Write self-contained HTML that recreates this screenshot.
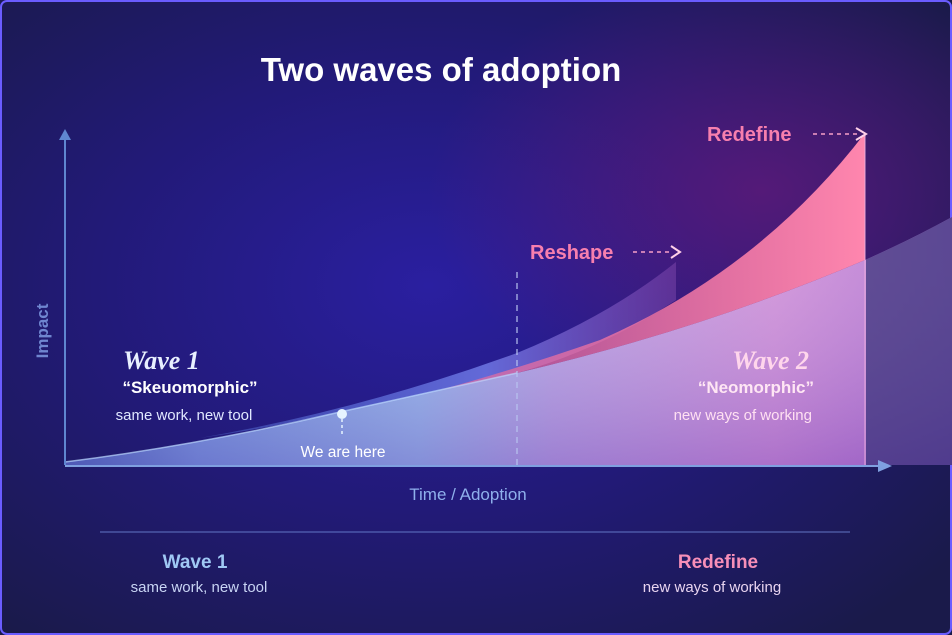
<!DOCTYPE html>
<html><head><meta charset="utf-8"><style>
html,body{margin:0;padding:0;background:#1a1848;}
svg{display:block}
</style></head><body>
<svg width="952" height="635" viewBox="0 0 952 635" xmlns="http://www.w3.org/2000/svg" font-family="Liberation Sans, sans-serif">
<defs>
<radialGradient id="bg" cx="0.45" cy="0.45" r="0.7">
<stop offset="0" stop-color="#2a1fa0"/><stop offset="0.5" stop-color="#221a78"/><stop offset="1" stop-color="#1a1a4a"/>
</radialGradient>
<radialGradient id="pg" cx="0.8" cy="0.3" r="0.35">
<stop offset="0" stop-color="#6a1a7a" stop-opacity="0.7"/><stop offset="1" stop-color="#6a1a7a" stop-opacity="0"/>
</radialGradient>
<linearGradient id="low" x1="0" y1="0" x2="1" y2="0">
<stop offset="0" stop-color="#3f68b8"/><stop offset="0.15" stop-color="#6d9be0"/><stop offset="0.4" stop-color="#92bcee"/><stop offset="0.55" stop-color="#b8a4e4"/><stop offset="0.8" stop-color="#d08ed8"/><stop offset="1" stop-color="#b070d0"/>
</linearGradient>
<linearGradient id="lowv" x1="0" y1="0" x2="0" y2="1">
<stop offset="0" stop-color="#fff" stop-opacity="0.12"/><stop offset="1" stop-color="#6a3ab0" stop-opacity="0.35"/>
</linearGradient>
<linearGradient id="pink" x1="0" y1="0" x2="1" y2="0">
<stop offset="0" stop-color="#f06a9a" stop-opacity="0.6"/><stop offset="1" stop-color="#ff86ae"/>
</linearGradient>
<linearGradient id="band" x1="0" y1="0" x2="1" y2="0">
<stop offset="0" stop-color="#5a7ae0" stop-opacity="0.35"/><stop offset="0.6" stop-color="#6a72e0" stop-opacity="0.9"/><stop offset="1" stop-color="#9a5ac0" stop-opacity="0.35"/>
</linearGradient>
<clipPath id="lc"><path d="M65,462 Q200,445 340,412 Q430,392 517,373 Q700,330 865,260 Q910,240 952,217 L952,465 L65,465 Z"/></clipPath>
</defs>
<rect x="0" y="0" width="952" height="635" fill="url(#bg)"/>
<rect x="0" y="0" width="952" height="635" fill="url(#pg)"/>
<rect x="1" y="1" width="950" height="633" rx="6" fill="none" stroke="#6a5cff" stroke-width="2"/>

<text x="441" y="81" text-anchor="middle" fill="#ffffff" font-size="33" font-weight="bold">Two waves of adoption</text>

<path d="M65,462 Q200,445 340,412 Q430,392 517,373 Q700,330 865,260 Q910,240 952,217 L952,465 L65,465 Z" fill="url(#low)"/>
<path d="M65,462 Q200,445 340,412 Q430,392 517,373 Q700,330 865,260 Q910,240 952,217 L952,465 L65,465 Z" fill="url(#lowv)"/>
<rect x="866" y="200" width="86" height="266" fill="#2a2a70" opacity="0.65" clip-path="url(#lc)"/>
<path d="M200,438 Q360,410 517,353 Q610,315 676,262 L676,300 Q600,350 517,373 Q430,392 340,412 Q270,428 200,438 Z" fill="url(#band)"/>
<path d="M440,390 Q520,368 600,340 Q760,270 865,133 L865,260 Q700,330 517,373 Q480,382 440,390 Z" fill="url(#pink)"/>
<line x1="865" y1="133" x2="865" y2="465" stroke="#f0b0e0" stroke-width="1.5" opacity="0.6"/>
<path d="M65,462 Q200,445 340,412 Q430,392 517,373" fill="none" stroke="#bcd8ff" stroke-width="1.5" opacity="0.7"/>

<line x1="517" y1="272" x2="517" y2="465" stroke="#b8c4f0" stroke-width="1.5" stroke-dasharray="6,5" opacity="0.8"/>

<line x1="65" y1="465" x2="65" y2="138" stroke="#5f86d0" stroke-width="2"/>
<polygon points="59,140 65,129 71,140" fill="#5f86d0"/>
<line x1="65" y1="466" x2="880" y2="466" stroke="#7fa0e0" stroke-width="2"/>
<polygon points="878,460 892,466 878,472" fill="#7fa0e0"/>

<circle cx="342" cy="414" r="5" fill="#e6f4ff"/>
<line x1="342" y1="419" x2="342" y2="434" stroke="#e6f4ff" stroke-width="1.5" stroke-dasharray="3,3"/>
<text x="343" y="457" text-anchor="middle" fill="#ffffff" font-size="15.5">We are here</text>

<text x="707" y="141" fill="#f77fae" font-size="20" font-weight="bold">Redefine</text>
<line x1="813" y1="134" x2="860" y2="134" stroke="#f7a0c8" stroke-width="1.5" stroke-dasharray="4,4"/>
<polyline points="856,128 866,134 856,140" fill="none" stroke="#ffd0e8" stroke-width="2"/>
<text x="530" y="259" fill="#f77fae" font-size="20" font-weight="bold">Reshape</text>
<line x1="633" y1="252" x2="672" y2="252" stroke="#f7a0c8" stroke-width="1.5" stroke-dasharray="4,4"/>
<polyline points="671,246 680,252 671,258" fill="none" stroke="#ffd0e8" stroke-width="2"/>

<text x="123" y="369" fill="#e8f0ff" font-size="26" font-weight="bold" font-style="italic" style="font-family:'Liberation Serif',serif">Wave 1</text>
<text x="190" y="393" text-anchor="middle" fill="#ffffff" font-size="17" font-weight="bold">“Skeuomorphic”</text>
<text x="184" y="420" text-anchor="middle" fill="#e0e8ff" font-size="15">same work, new tool</text>

<text x="809" y="369" text-anchor="end" fill="#ffd6ec" font-size="26" font-weight="bold" font-style="italic" style="font-family:'Liberation Serif',serif">Wave 2</text>
<text x="814" y="393" text-anchor="end" fill="#ffe6f4" font-size="17" font-weight="bold">“Neomorphic”</text>
<text x="812" y="420" text-anchor="end" fill="#ffe0f2" font-size="15">new ways of working</text>

<text transform="translate(48,331) rotate(-90)" text-anchor="middle" fill="#6f86d0" font-size="17" font-weight="bold">Impact</text>
<text x="468" y="500" text-anchor="middle" fill="#8fb0ec" font-size="17">Time / Adoption</text>

<line x1="100" y1="532" x2="850" y2="532" stroke="#6a80d0" stroke-width="1.5" opacity="0.6"/>

<text x="195" y="568" text-anchor="middle" fill="#9fc8f4" font-size="19" font-weight="bold">Wave 1</text>
<text x="199" y="592" text-anchor="middle" fill="#c8d4f4" font-size="15">same work, new tool</text>
<text x="718" y="568" text-anchor="middle" fill="#f78fb8" font-size="19" font-weight="bold">Redefine</text>
<text x="712" y="592" text-anchor="middle" fill="#e8d4f0" font-size="15">new ways of working</text>
</svg>
</body></html>
